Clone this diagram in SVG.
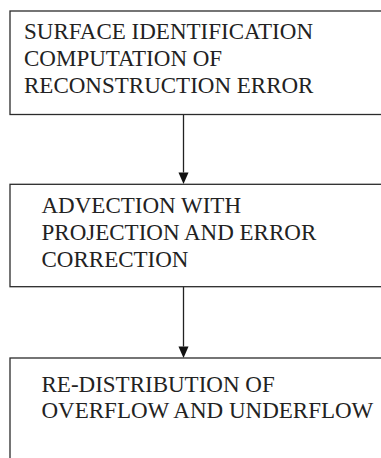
<svg xmlns="http://www.w3.org/2000/svg" width="381" height="458" viewBox="0 0 381 458">
<style>
.box{fill:#fff;stroke:#2b2b2b;stroke-width:1.3}
.lbl{font-family:"Liberation Serif","Times New Roman",serif;font-size:23px;fill:#222}
.conn{stroke:#222;stroke-width:1.3;fill:none}
</style>
<defs>
<marker id="arr" markerWidth="10" markerHeight="11" refX="5" refY="11" orient="auto-start-reverse" markerUnits="userSpaceOnUse" viewBox="0 0 10 11">
<path d="M0,0 L10,0 L5,11 Z" fill="#111"/>
</marker>
</defs>
<rect width="381" height="458" fill="#fff"/>
<g id="connectors">
<line class="conn" x1="183.5" y1="115" x2="183.5" y2="172.5"/>
<path d="M178.5,172.5 L188.5,172.5 L183.5,184 Z" fill="#111"/>
<line class="conn" x1="183.5" y1="287" x2="183.5" y2="346.5"/>
<path d="M178.5,346.5 L188.5,346.5 L183.5,358 Z" fill="#111"/>
</g>
<g id="node1">
<rect class="box" x="10" y="11" width="400" height="103.5"/>
<text class="lbl" x="24" y="38.5">SURFACE IDENTIFICATION</text>
<text class="lbl" x="24" y="65.5">COMPUTATION OF</text>
<text class="lbl" x="24" y="92.5">RECONSTRUCTION ERROR</text>
</g>
<g id="node2">
<rect class="box" x="10" y="184.3" width="400" height="102.4"/>
<text class="lbl" x="41.5" y="212.5">ADVECTION WITH</text>
<text class="lbl" x="41.5" y="239.5">PROJECTION AND ERROR</text>
<text class="lbl" x="41.5" y="266.5">CORRECTION</text>
</g>
<g id="node3">
<rect class="box" x="10" y="358" width="400" height="120"/>
<text class="lbl" x="41.5" y="391.5">RE-DISTRIBUTION OF</text>
<text class="lbl" x="41.5" y="418">OVERFLOW AND UNDERFLOW</text>
</g>
</svg>
